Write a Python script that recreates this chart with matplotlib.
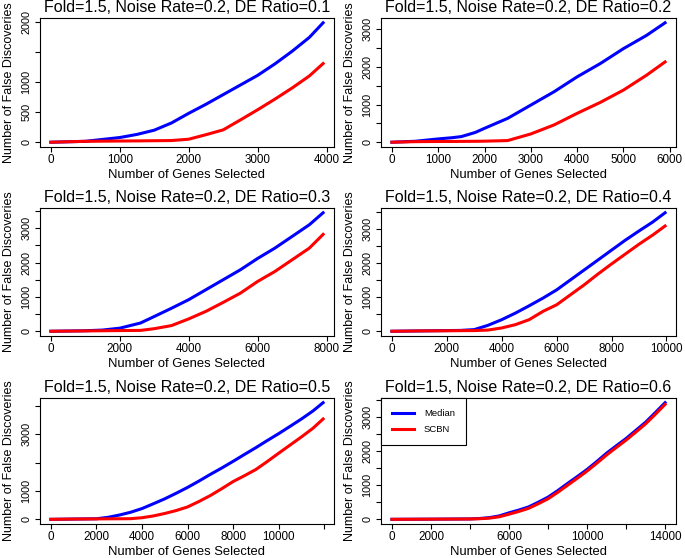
import matplotlib
matplotlib.use("Agg")
import matplotlib.pyplot as plt
import numpy as np

plt.rcParams["font.family"] = ["Liberation Sans", "DejaVu Sans"]

titles = [
    "Fold=1.5, Noise Rate=0.2, DE Ratio=0.1",
    "Fold=1.5, Noise Rate=0.2, DE Ratio=0.2",
    "Fold=1.5, Noise Rate=0.2, DE Ratio=0.3",
    "Fold=1.5, Noise Rate=0.2, DE Ratio=0.4",
    "Fold=1.5, Noise Rate=0.2, DE Ratio=0.5",
    "Fold=1.5, Noise Rate=0.2, DE Ratio=0.6",
]

# number of genes selected
x1 = [0, 500, 1000, 1250, 1500, 1750, 2000, 2250, 2500, 2750, 3000, 3250, 3500, 3750, 3950]
x2 = [0, 500, 1000, 1300, 1500, 1800, 2000, 2500, 3000, 3500, 4000, 4500, 5000, 5500, 5900]
x3 = [0, 1000, 1500, 2000, 2600, 3000, 3500, 4000, 4500, 5000, 5500, 6000, 6500, 7000, 7500, 7900]
x4 = [0, 1000, 2000, 2500, 3000, 3500, 4000, 4500, 5000, 5500, 6000, 6500, 7000, 7500,
      8000, 8500, 9000, 9500, 9950]
x5 = [0, 1000, 2000, 2500, 3000, 3500, 4000, 4500, 5000, 5500, 6000, 6500, 7000, 7500,
      8000, 8500, 9000, 9500, 10000, 10500, 11000, 11500, 11950]
x6 = [0, 2000, 4000, 4500, 5000, 5500, 6000, 6500, 7000, 7500, 8000, 8500, 9000, 9500,
      10000, 10500, 11000, 11500, 12000, 12500, 13000, 13500, 14000]

# false discoveries, Median normalisation
median1 = [0, 15, 78, 130, 200, 320, 480, 630, 790, 950, 1110, 1300, 1510, 1740, 1983]
median2 = [0, 25, 88, 120, 150, 260, 370, 635, 988, 1341, 1739, 2092, 2489, 2842, 3177]
median3 = [0, 15, 35, 90, 240, 430, 670, 920, 1210, 1500, 1790, 2120, 2420, 2760, 3100, 3450]
median4 = [0, 10, 20, 25, 49, 175, 341, 535, 750, 974, 1217, 1509, 1801, 2093, 2386, 2678,
           2950, 3213, 3486]
median5 = [0, 10, 20, 70, 150, 250, 380, 550, 724, 920, 1126, 1350, 1586, 1810, 2046, 2290,
           2529, 2780, 3023, 3280, 3540, 3820, 4115]
median6 = [0, 5, 12, 25, 50, 100, 190, 270, 362, 500, 648, 840, 1048, 1250, 1457, 1690, 1933,
           2150, 2362, 2600, 2838, 3120, 3410]

# false discoveries, SCBN normalisation
scbn1 = [0, 15, 20, 22, 25, 28, 50, 125, 205, 370, 539, 715, 900, 1100, 1306]
scbn2 = [0, 15, 20, 20, 22, 25, 28, 44, 220, 459, 768, 1059, 1386, 1783, 2136]
scbn3 = [0, 10, 15, 20, 25, 75, 165, 360, 580, 840, 1110, 1450, 1740, 2080, 2420, 2820]
scbn4 = [0, 10, 15, 18, 20, 35, 97, 195, 341, 584, 779, 1071, 1363, 1680, 1980, 2270,
         2560, 2830, 3096]
scbn5 = [0, 10, 15, 18, 20, 23, 57, 120, 207, 310, 437, 630, 839, 1080, 1333, 1540,
         1759, 2040, 2333, 2620, 2908, 3210, 3540]
scbn6 = [0, 5, 10, 18, 35, 75, 150, 230, 320, 455, 600, 790, 995, 1200, 1410, 1640, 1880,
         2100, 2315, 2550, 2790, 3070, 3360]

xs = [x1, x2, x3, x4, x5, x6]
medians = [median1, median2, median3, median4, median5, median6]
scbns = [scbn1, scbn2, scbn3, scbn4, scbn5, scbn6]

xticks = [
    [0, 1000, 2000, 3000, 4000],
    [0, 1000, 2000, 3000, 4000, 5000, 6000],
    [0, 2000, 4000, 6000, 8000],
    [0, 2000, 4000, 6000, 8000, 10000],
    [0, 2000, 4000, 6000, 8000, 10000, 12000],
    [0, 2000, 4000, 6000, 8000, 10000, 12000, 14000],
]
xticklabels = [
    ["0", "1000", "2000", "3000", "4000"],
    ["0", "1000", "2000", "3000", "4000", "5000", "6000"],
    ["0", "2000", "4000", "6000", "8000"],
    ["0", "2000", "4000", "6000", "8000", "10000"],
    ["0", "2000", "4000", "6000", "8000", "10000", ""],
    ["0", "2000", "", "6000", "", "10000", "", "14000"],
]
yticks = [
    [0, 500, 1000, 1500, 2000],
    [0, 500, 1000, 1500, 2000, 2500, 3000],
    [0, 500, 1000, 1500, 2000, 2500, 3000, 3500],
    [0, 500, 1000, 1500, 2000, 2500, 3000, 3500],
    [0, 1000, 2000, 3000, 4000],
    [0, 500, 1000, 1500, 2000, 2500, 3000, 3500],
]
yticklabels = [
    ["0", "500", "1000", "", "2000"],
    ["0", "", "1000", "", "2000", "", "3000"],
    ["0", "", "1000", "", "2000", "", "3000", ""],
    ["0", "", "1000", "", "2000", "", "3000", ""],
    ["0", "1000", "", "3000", ""],
    ["0", "", "1000", "", "2000", "", "3000", ""],
]

W, H = 685, 558
cols = [(40, 334), (381, 676)]
rows = [(18, 147), (208, 336), (398, 524)]

fig = plt.figure(figsize=(W / 100, H / 100), dpi=100)
narrow = ["Liberation Sans Narrow", "Liberation Sans"]

for i in range(6):
    l, r = cols[i % 2]
    t, b = rows[i // 2]
    ax = fig.add_axes([l / W, 1 - b / H, (r - l) / W, (b - t) / H])
    x = np.array(xs[i])
    m = np.array(medians[i])
    s = np.array(scbns[i])
    ax.plot(x, m, color="#0000ff", lw=2.2, label="Median")
    ax.plot(x, s, color="#ff0000", lw=2.2, label="SCBN")

    xr = x.max() - x.min()
    yr = max(m.max(), s.max())
    ax.set_xlim(-0.04 * xr, x.max() + 0.04 * xr)
    ax.set_ylim(-0.04 * yr, yr * 1.04)

    ax.set_xticks(xticks[i])
    ax.set_xticklabels(xticklabels[i], fontsize=8.4)
    ax.set_yticks(yticks[i])
    ax.set_yticklabels(yticklabels[i], fontsize=7.8, family=narrow,
                       rotation=90, va="center")
    ax.tick_params(direction="out", length=3.6, width=0.8, colors="black")
    ax.tick_params(axis="x", pad=1.5)
    ax.tick_params(axis="y", pad=2.5)
    for sp in ax.spines.values():
        sp.set_linewidth(0.8)

    ax.set_title(titles[i], fontsize=11.5, pad=4)
    ax.set_xlabel("Number of Genes Selected", fontsize=9.4, labelpad=2)
    ax.set_ylabel("Number of False Discoveries", fontsize=9, family=narrow, labelpad=5)

    if i == 5:
        leg = ax.legend(loc="upper left", bbox_to_anchor=(0, 1), borderaxespad=0,
                        fontsize=6.8, fancybox=False, edgecolor="black", framealpha=1,
                        handlelength=2.35, borderpad=1.15, labelspacing=0.8,
                        handletextpad=1.05)
        leg.get_frame().set_linewidth(0.8)

fig.savefig("out.png", dpi=100)
